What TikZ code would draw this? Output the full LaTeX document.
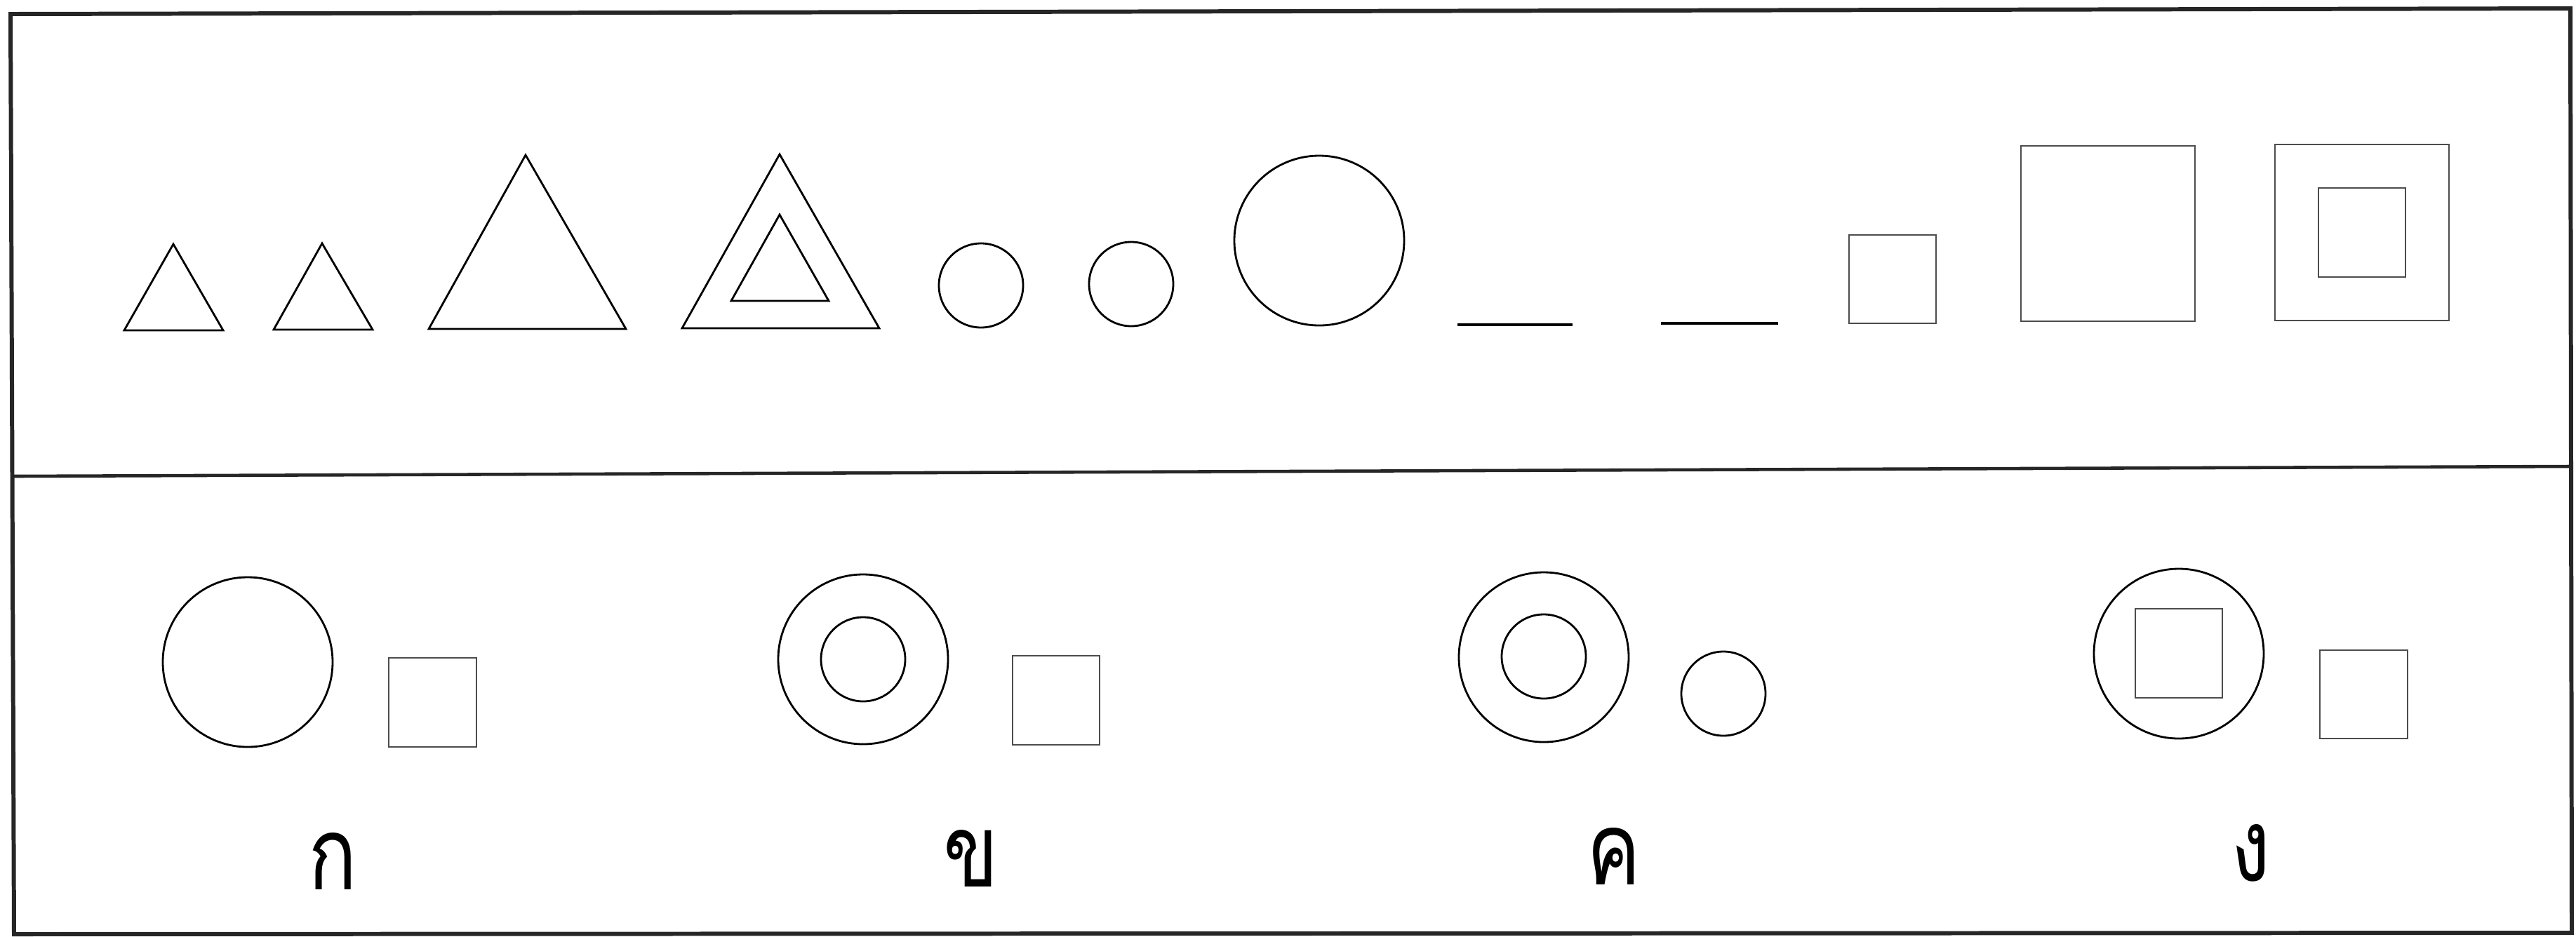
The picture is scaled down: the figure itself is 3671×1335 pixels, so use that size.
\documentclass[tikz,border=0pt]{standalone}
\usepackage{fontspec}
\newfontfamily\thaifont[Script=Thai]{Loma}
\newcommand{\thlbl}[1]{\scalebox{0.86}[1.08]{\thaifont\fontsize{38}{40}\selectfont #1}}
\begin{document}
\begin{tikzpicture}[x=0.01cm,y=-0.01cm,
  frameline/.style={line width=1.7pt,black!85},
  shapeline/.style={line width=0.8pt,black},
  boxline/.style={line width=0.6pt,black!70},
  lbl/.style={anchor=base,inner sep=0pt}]
\useasboundingbox (0,0) rectangle (3671,1335);
% frame
\draw[frameline] (15,20) -- (3663,12) -- (3665,1330) -- (20,1332) -- cycle;
\draw[frameline,line width=1.3pt] (20,679) -- (3663,665);
% top row: triangles
\draw[shapeline] (247,348) -- (318,471) -- (177,471) -- cycle;
\draw[shapeline] (459,347) -- (531,470) -- (390,470) -- cycle;
\draw[shapeline] (749,221) -- (892,469) -- (611,469) -- cycle;
\draw[shapeline] (1111,220) -- (1253,468) -- (972,468) -- cycle;
\draw[shapeline] (1111,306) -- (1181,429) -- (1042,429) -- cycle;
% circles
\draw[shapeline] (1398,407) circle [radius=60];
\draw[shapeline] (1612,405) circle [radius=60];
\draw[shapeline] (1880,343) circle [radius=121];
% lines
\draw[shapeline,line width=1.1pt] (2077,463) -- (2241,463);
\draw[shapeline,line width=1.1pt] (2367,461) -- (2534,461);
% squares
\draw[boxline] (2635,335) rectangle (2759,461);
\draw[boxline] (2880,208) rectangle (3128,458);
\draw[boxline] (3242,206) rectangle (3490,457);
\draw[boxline] (3304,268) rectangle (3428,395);
% bottom row: choice A
\draw[shapeline] (353,944) circle [radius=121];
\draw[boxline] (554,938) rectangle (679,1065);
% choice B
\draw[shapeline] (1230,940) circle [radius=121];
\draw[shapeline] (1230,940) circle [radius=60];
\draw[boxline] (1443,935) rectangle (1567,1062);
% choice C
\draw[shapeline] (2200,937) circle [radius=121];
\draw[shapeline] (2200,936) circle [radius=60];
\draw[shapeline] (2456,989) circle [radius=60];
% choice D
\draw[shapeline] (3105,932) circle [radius=121];
\draw[boxline] (3043,868) rectangle (3167,995);
\draw[boxline] (3306,927) rectangle (3431,1053);
% labels
\node[lbl] (la) at (474,1268) {\thlbl{ก}};
\node[lbl] (lb) at (1384,1264) {\thlbl{ข}};
\node[lbl] (lc) at (2300,1261) {\thlbl{ค}};
\node[lbl] (ld) at (3208,1256) {\thlbl{ง}};
\end{tikzpicture}
\end{document}
